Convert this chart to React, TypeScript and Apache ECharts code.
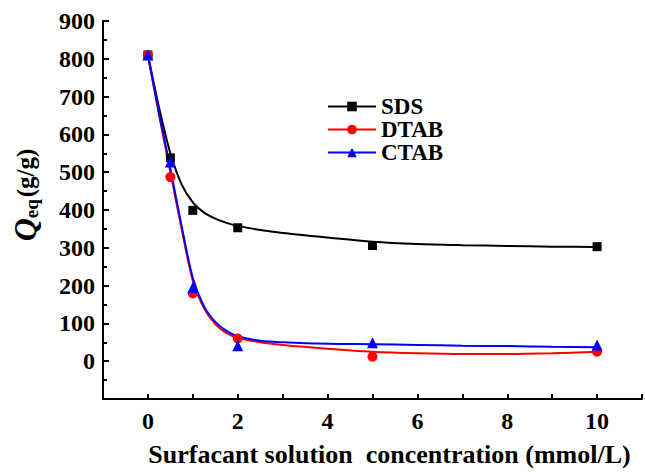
import React, { useEffect, useRef } from "react";
import * as echarts from "echarts";

// Measured data points (surfactant concentration, mmol/L)
const pointX = [0, 0.5, 1, 2, 5, 10];
const sdsPoints = [810, 538, 399, 353, 306, 303];
const dtabPoints = [810, 487, 179, 60, 12, 25];
const ctabPoints = [810, 527, 195, 41, 49, 43];

// Fitted curves
const fitX = [0, 0.25, 0.5, 0.75, 1, 1.25, 1.5, 1.75, 2, 2.5, 3, 4, 5, 6, 7, 8, 9, 10];
const sdsFit = [810, 670, 550, 468, 420, 393, 377, 366, 358, 347, 339, 327, 316, 310, 307, 305, 303, 302];
const dtabFit = [810, 650, 500, 350, 213, 140, 98, 74, 62, 50, 43, 33, 25, 21, 19, 19, 21, 25];
const ctabFit = [810, 655, 510, 358, 220, 145, 104, 80, 66, 54, 50, 46, 45, 43, 41, 40, 38, 37];

const xTicksShown = [0, 2, 4, 6, 8, 10];

const FONT = '"Liberation Serif", "Times New Roman", serif';

const pairs = (xs: number[], ys: number[]) => xs.map((x, i) => [x, ys[i]]);

export default function App() {
  const ref = useRef<HTMLDivElement>(null);
  useEffect(() => {
    if (!ref.current) return;
    const chart = echarts.init(ref.current, undefined, { renderer: "svg" });
    const names = ["SDS", "DTAB", "CTAB"];
    const colors = ["#000000", "#ff0000", "#0000ff"];
    const symbols = ["rect", "circle", "triangle"];
    const sizes = [9, 10, 11];
    const fits = [sdsFit, dtabFit, ctabFit];
    const pts = [sdsPoints, dtabPoints, ctabPoints];
    const series: any[] = [];
    names.forEach((n, i) => {
      series.push({
        name: n,
        type: "line",
        data: pairs(fitX, fits[i]),
        smooth: 0.3,
        showSymbol: false,
        symbol: symbols[i],
        symbolSize: sizes[i],
        itemStyle: { color: colors[i] },
        lineStyle: { color: colors[i], width: 2 },
        z: 2,
      });
    });
    names.forEach((n, i) => {
      series.push({
        name: n + " data",
        type: "scatter",
        data: pairs(pointX, pts[i]),
        symbol: symbols[i],
        symbolSize: sizes[i],
        itemStyle: { color: colors[i], opacity: 1 },
        z: 3 + i,
      });
    });
    chart.setOption({
      animation: false,
      backgroundColor: "#ffffff",
      grid: { left: 103, right: 0, top: 21, bottom: 56, containLabel: false },
      legend: {
        data: names,
        orient: "vertical",
        left: 322,
        top: 90,
        itemWidth: 48,
        itemHeight: 12,
        itemGap: 0,
        textStyle: { fontFamily: FONT, fontWeight: "bold", fontSize: 23, color: "#000" },
      },
      xAxis: {
        type: "value",
        min: -1,
        max: 11,
        interval: 1,
        splitLine: { show: false },
        axisLine: { onZero: false, lineStyle: { color: "#000", width: 2 } },
        axisTick: { inside: true, length: 5, lineStyle: { color: "#000", width: 2 } },
        axisLabel: {
          formatter: (v: number) => (xTicksShown.includes(v) ? String(v) : ""),
          fontFamily: FONT,
          fontWeight: "bold",
          fontSize: 24,
          color: "#000",
          margin: 10,
        },
        name: "Surfacant solution  concentration (mmol/L)",
        nameLocation: "middle",
        nameGap: 42,
        nameTextStyle: {
          fontFamily: FONT,
          fontWeight: "bold",
          fontSize: 26,
          color: "#000",
          padding: [0, 0, 0, 34],
        },
      },
      yAxis: {
        type: "value",
        min: -100,
        max: 900,
        interval: 100,
        splitLine: { show: false },
        axisLine: { onZero: false, lineStyle: { color: "#000", width: 2 } },
        axisTick: { inside: true, length: 6, lineStyle: { color: "#000", width: 2 } },
        minorTick: { show: true, splitNumber: 2, length: 4, lineStyle: { color: "#000", width: 2 } },
        axisLabel: {
          formatter: (v: number) => (v < 0 ? "" : String(v)),
          fontFamily: FONT,
          fontWeight: "bold",
          fontSize: 24,
          color: "#000",
          margin: 8,
        },
        name: "{q|Q}{sub|eq}{n|(g/g)}",
        nameLocation: "middle",
        nameGap: 62,
        nameTextStyle: {
          padding: [0, 0, 0, 30],
          rich: {
            q: { fontFamily: FONT, fontWeight: "bold", fontStyle: "italic", fontSize: 32, color: "#000" },
            sub: { fontFamily: FONT, fontWeight: "bold", fontSize: 19, color: "#000", padding: [12, 2, 0, 0] },
            n: { fontFamily: FONT, fontWeight: "bold", fontSize: 25, color: "#000" },
          },
        },
      },
      series,
    });
    return () => chart.dispose();
  }, []);
  return (
    <div
      ref={ref}
      style={{ position: "absolute", left: 0, top: 0, width: 645, height: 472 }}
    />
  );
}
